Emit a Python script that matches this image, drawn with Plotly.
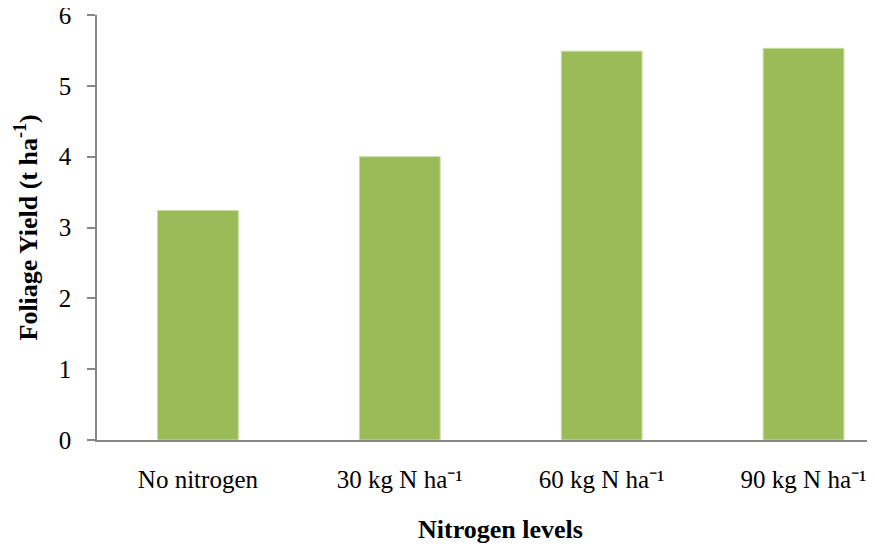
import plotly.graph_objects as go

categories = ["No nitrogen", "30 kg N ha\u207b\u00b9", "60 kg N ha\u207b\u00b9", "90 kg N ha\u207b\u00b9"]
yield_values = [3.24, 4.0, 5.49, 5.53]
y_ticks = [0, 1, 2, 3, 4, 5, 6]

FONT = "Liberation Serif, Times New Roman, serif"
OFF = 8  # page body margin
W, H = 875 - OFF, 547 - OFF
ML, MR, MT, MB = 97 - OFF, 0, 15 - OFF, 107
plot_w = W - ML - MR
plot_h = H - MT - MB

fig = go.Figure()
fig.add_trace(go.Bar(
    x=categories,
    y=yield_values,
    marker=dict(color="#9BBB59", line=dict(color="#C9DCA6", width=1)),
    width=0.4,
))

fig.update_layout(
    template="none",
    width=W, height=H,
    margin=dict(l=ML, r=MR, t=MT, b=MB, autoexpand=False),
    paper_bgcolor="white", plot_bgcolor="white",
    showlegend=False,
    font=dict(family=FONT, color="#000000"),
    xaxis=dict(
        type="category",
        range=[-0.5, 3.354],
        automargin=False,
        showline=True, linecolor="#878787", linewidth=1.5,
        ticks="", showgrid=False, zeroline=False,
        tickfont=dict(family=FONT, size=25, color="#000"),
        ticklabelstandoff=16,
        ticklabeloverflow="allow",
    ),
    yaxis=dict(
        range=[0, 6],
        tickvals=y_ticks,
        automargin=False,
        showline=True, linecolor="#878787", linewidth=1.5,
        ticks="outside", ticklen=8, tickcolor="#878787", tickwidth=1.5,
        showgrid=False, zeroline=False,
        tickfont=dict(family=FONT, size=25, color="#000"),
        ticklabelstandoff=11,
        ticklabeloverflow="allow",
    ),
)

# x-axis title centred on the full category span (plot area extends past the right edge)
x_title_px = 500.6 - OFF
fig.add_annotation(
    text="<b>Nitrogen levels</b>",
    xref="paper", yref="paper",
    x=(x_title_px - ML) / plot_w, y=-(529 - 440) / plot_h,
    xanchor="center", yanchor="middle", showarrow=False,
    font=dict(family=FONT, size=26, color="#000"),
)
fig.add_annotation(
    text="<b>Foliage Yield (t ha<sup>-1</sup>)</b>",
    xref="paper", yref="paper",
    x=(27 - 97) / plot_w, y=0.5,
    xanchor="center", yanchor="middle", showarrow=False, textangle=-90,
    font=dict(family=FONT, size=26, color="#000"),
)

fig.write_html("out.html")
